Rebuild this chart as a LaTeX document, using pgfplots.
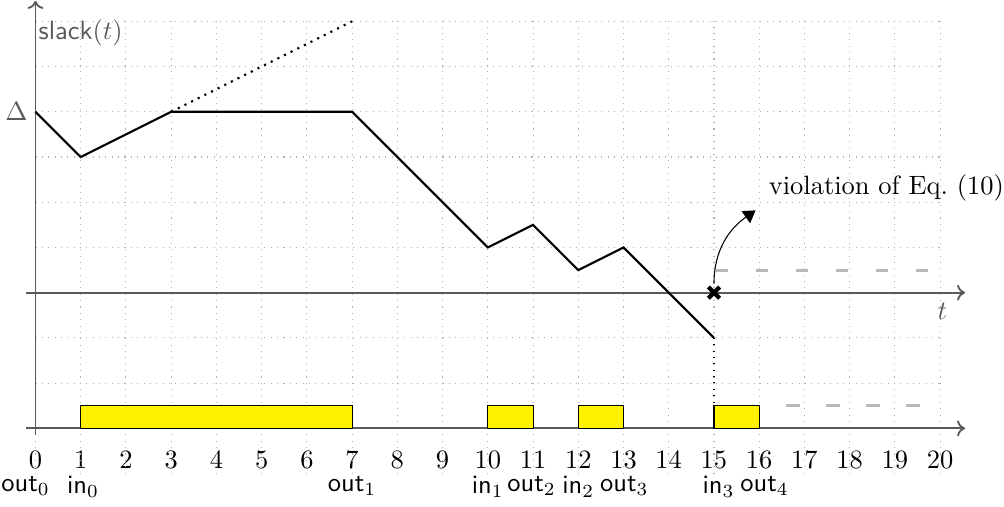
\documentclass[border=0pt]{standalone}
\usepackage{pgfplots}
\pgfplotsset{compat=1.18}
\usetikzlibrary{arrows.meta}
\begin{document}
\begin{tikzpicture}
\begin{axis}[
  x=0.6cm, y=0.6cm,
  xmin=0, xmax=20, ymin=-3, ymax=6,
  clip=false,
  axis line style={draw=none},
  tick style={draw=none},
  xtick={0,...,20}, ytick={-3,...,6},
  yticklabels={},
  yticklabel style={inner sep=0pt, outer sep=0pt},
  xticklabel style={yshift=-5pt},
  grid=major,
  grid style={gray!60, dotted, thin},
]
% grid extension below the axis
\pgfplotsinvokeforeach{0,...,20}{
  \draw[gray!60, dotted, thin] (axis cs:#1,-4) -- (axis cs:#1,-3);
}
% axes
\draw[black!65, line width=0.7pt, -{To[length=3pt,width=6pt]}] (axis cs:-0.2,-3) -- (axis cs:20.55,-3);
\draw[black!65, line width=0.7pt, -{To[length=3pt,width=6pt]}] (axis cs:-0.2,0) -- (axis cs:20.55,0);
\draw[black!65, line width=0.7pt, -{To[length=3pt,width=6pt]}] (axis cs:0,-3.15) -- (axis cs:0,6.45);
% labels
\node[black!65, anchor=east, inner sep=2pt] at (axis cs:-0.05,4) {$\Delta$};
\node[black!65, anchor=north west, inner sep=1pt] at (axis cs:0,6.1) {\textsf{slack}$(t)$};
\node[black!65, anchor=north] at (axis cs:20.05,-0.02) {$t$};
% in/out labels
\node[anchor=north, inner xsep=0pt] at (axis cs:-0.22,-3.85) {\textsf{out}$_0$};
\node[anchor=north] at (axis cs:1.05,-3.85) {\textsf{in}$_0$};
\node[anchor=north] at (axis cs:7,-3.85) {\textsf{out}$_1$};
\node[anchor=north] at (axis cs:10,-3.85) {\textsf{in}$_1$};
\node[anchor=north] at (axis cs:10.97,-3.85) {\textsf{out}$_2$};
\node[anchor=north] at (axis cs:12,-3.85) {\textsf{in}$_2$};
\node[anchor=north] at (axis cs:13.02,-3.85) {\textsf{out}$_3$};
\node[anchor=north] at (axis cs:15.1,-3.85) {\textsf{in}$_3$};
\node[anchor=north] at (axis cs:16.12,-3.85) {\textsf{out}$_4$};
% bars
\addplot[fill=yellow, draw=black, thin] coordinates {(1,-3) (1,-2.5) (7,-2.5) (7,-3)} -- cycle;
\addplot[fill=yellow, draw=black, thin] coordinates {(10,-3) (10,-2.5) (11,-2.5) (11,-3)} -- cycle;
\addplot[fill=yellow, draw=black, thin] coordinates {(12,-3) (12,-2.5) (13,-2.5) (13,-3)} -- cycle;
\addplot[fill=yellow, draw=black, thin] coordinates {(15,-3) (15,-2.5) (16,-2.5) (16,-3)} -- cycle;
% dashed gray lines
\addplot[gray!55, line width=1.1pt, dash pattern=on 0.16cm off 0.37cm] coordinates {(15.05,0.5) (20,0.5)};
\addplot[gray!55, line width=1.1pt, dash pattern=on 0.18cm off 0.35cm] coordinates {(16.6,-2.5) (19.6,-2.5)};
% slack
\addplot[black, thick] coordinates {(0,4) (1,3) (3,4) (7,4) (10,1) (11,1.5) (12,0.5) (13,1) (15,-1)};
\addplot[black, thick, dotted] coordinates {(3,4) (7,6)};
\addplot[black, thin, dotted] coordinates {(15,-1) (15,-2.5)};
\addplot[black, line width=1.6pt, mark=x, mark size=3pt, only marks] coordinates {(15,0)};
% annotation
\draw[black, thin, -{Triangle[length=4.5pt,width=5.5pt]}] (axis cs:15,0.2) to[out=90, in=215] (axis cs:15.92,1.82);
\node[anchor=west, inner sep=0pt] at (axis cs:16.2,2.32) {violation of Eq.~(10)};
\end{axis}
\end{tikzpicture}
\end{document}
